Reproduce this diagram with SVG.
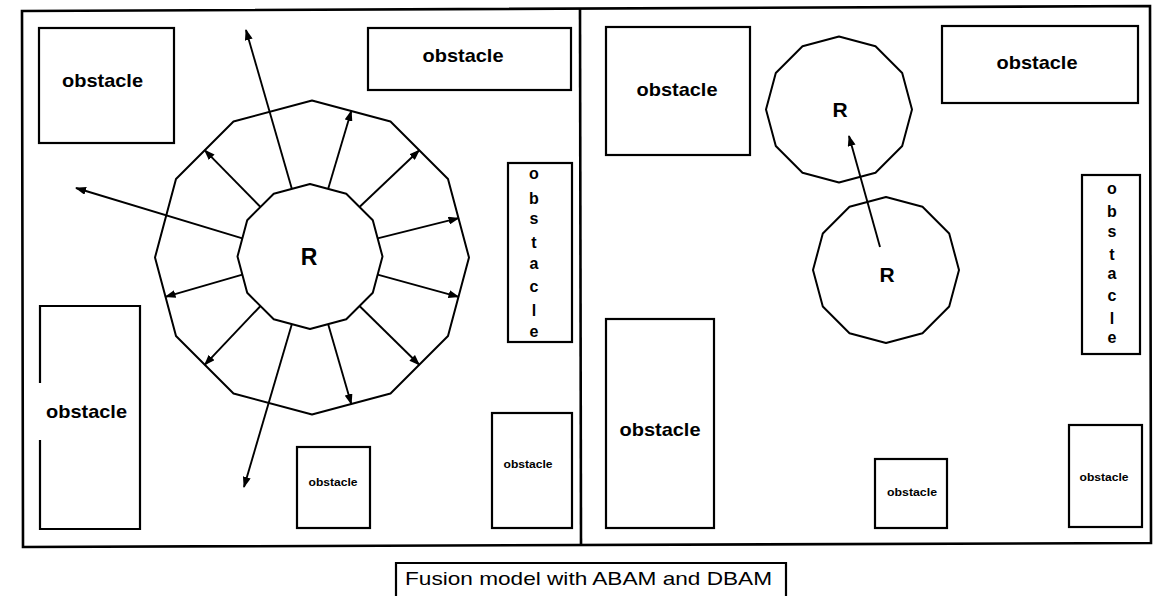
<svg xmlns="http://www.w3.org/2000/svg" width="1154" height="596" viewBox="0 0 1154 596">
<defs>
<style>
.ln{fill:none;stroke:#000;stroke-width:2;stroke-linejoin:round}
.box{fill:none;stroke:#000;stroke-width:2.2}
.fr{fill:none;stroke:#000;stroke-width:2.6}
.ar{fill:none;stroke:#000;stroke-width:1.9}
.lb{font-family:"Liberation Sans",Arial,sans-serif;font-weight:bold;font-size:19px;text-anchor:middle;fill:#000}
.sm{font-family:"Liberation Sans",Arial,sans-serif;font-weight:bold;font-size:11px;text-anchor:middle;fill:#000}
.vl{font-family:"Liberation Sans",Arial,sans-serif;font-weight:bold;font-size:16px;text-anchor:middle;fill:#000}
.r{font-family:"Liberation Sans",Arial,sans-serif;font-weight:bold;text-anchor:middle;fill:#000}
.cap{font-family:"Liberation Sans",Arial,sans-serif;font-size:19px;text-anchor:middle;fill:#000}
</style>
<marker id="ah" markerUnits="userSpaceOnUse" markerWidth="11" markerHeight="8" refX="10" refY="4" orient="auto">
<path d="M0,0 L11,4 L0,8 z" fill="#000"/>
</marker>
</defs>
<rect width="1154" height="596" fill="#fff"/>

<g id="frame">
<polygon class="fr" points="22,11 1150,6 1151,543 23,547"/>
<line class="fr" x1="580" y1="9" x2="581" y2="545"/>
</g>

<!-- Left panel obstacles -->
<g id="L-obstacle-topleft">
<rect class="box" x="39" y="28" width="135" height="115"/>
<text class="lb" x="102.5" y="87" textLength="81" lengthAdjust="spacingAndGlyphs">obstacle</text>
</g>
<g id="L-obstacle-topright">
<rect class="box" x="368" y="28" width="203" height="62"/>
<text class="lb" x="463" y="62" textLength="81" lengthAdjust="spacingAndGlyphs">obstacle</text>
</g>
<g id="L-obstacle-vertical">
<rect class="box" x="508" y="163" width="64" height="179"/>
<text class="vl" x="534" y="179">o</text>
<text class="vl" x="534" y="203.5">b</text>
<text class="vl" x="534" y="224">s</text>
<text class="vl" x="534" y="248">t</text>
<text class="vl" x="534" y="269">a</text>
<text class="vl" x="534" y="291.5">c</text>
<text class="vl" x="534" y="316">l</text>
<text class="vl" x="534" y="336.5">e</text>
</g>
<g id="L-obstacle-tall">
<path class="box" d="M40,383 L40,306 L140,306 L140,529 L40,529 L40,440"/>
<text class="lb" x="86.5" y="418" textLength="81" lengthAdjust="spacingAndGlyphs">obstacle</text>
</g>
<g id="L-obstacle-small">
<rect class="box" x="297" y="447" width="73" height="81"/>
<text class="sm" x="333" y="486" textLength="49" lengthAdjust="spacingAndGlyphs">obstacle</text>
</g>
<g id="L-obstacle-bottomright">
<rect class="box" x="492" y="413" width="80" height="115"/>
<text class="sm" x="528" y="468" textLength="49" lengthAdjust="spacingAndGlyphs">obstacle</text>
</g>

<!-- Left robot with ABAM ring -->
<g id="L-robot">
<polygon class="ln" points="312,100.5 390.5,121.5 448,179 469,257.5 448,336 390.5,393.5 312,414.5 233.5,393.5 176,336 155,257.5 176,179 233.5,121.5"/>
<polygon class="ln" points="310,184 346.25,193.7 372.8,220.25 382.5,256.5 372.8,292.75 346.25,319.3 310,329 273.75,319.3 247.2,292.75 237.5,256.5 247.2,220.25 273.75,193.7"/>
<text class="r" x="309" y="265" font-size="23">R</text>
</g>

<!-- Right panel obstacles -->
<g id="R-obstacle-topleft">
<rect class="box" x="606" y="27" width="144" height="128"/>
<text class="lb" x="677" y="96" textLength="81" lengthAdjust="spacingAndGlyphs">obstacle</text>
</g>
<g id="R-obstacle-topright">
<rect class="box" x="942" y="26" width="196" height="77"/>
<text class="lb" x="1037" y="69" textLength="81" lengthAdjust="spacingAndGlyphs">obstacle</text>
</g>
<g id="R-obstacle-vertical">
<rect class="box" x="1082" y="175" width="58" height="179"/>
<text class="vl" x="1112" y="194">o</text>
<text class="vl" x="1112" y="217">b</text>
<text class="vl" x="1112" y="237">s</text>
<text class="vl" x="1112" y="260">t</text>
<text class="vl" x="1112" y="279">a</text>
<text class="vl" x="1112" y="301">c</text>
<text class="vl" x="1112" y="324">l</text>
<text class="vl" x="1112" y="343">e</text>
</g>
<g id="R-obstacle-tall">
<rect class="box" x="606" y="319" width="108" height="209"/>
<text class="lb" x="660" y="436" textLength="81" lengthAdjust="spacingAndGlyphs">obstacle</text>
</g>
<g id="R-obstacle-small">
<rect class="box" x="875" y="459" width="72" height="69"/>
<text class="sm" x="912" y="496" textLength="50" lengthAdjust="spacingAndGlyphs">obstacle</text>
</g>
<g id="R-obstacle-bottomright">
<rect class="box" x="1069" y="425" width="73" height="102"/>
<text class="sm" x="1104" y="481" textLength="49" lengthAdjust="spacingAndGlyphs">obstacle</text>
</g>

<!-- Right panel robots -->
<g id="R-robot-target">
<polygon class="ln" points="839,36.5 875.5,46.3 902.2,73 912,109.5 902.2,146 875.5,172.7 839,182.5 802.5,172.7 775.8,146 766,109.5 775.8,73 802.5,46.3"/>
<text class="r" x="840" y="117" font-size="21">R</text>
</g>
<g id="R-robot-current">
<polygon class="ln" points="886,197 922.5,206.8 949.2,233.5 959,270 949.2,306.5 922.5,333.2 886,343 849.5,333.2 822.8,306.5 813,270 822.8,233.5 849.5,206.8"/>
<text class="r" x="887" y="282" font-size="21">R</text>
</g>

<!-- Connectors -->
<g id="connectors" class="ar" marker-end="url(#ah)">
<line x1="328.1" y1="188.9" x2="351.3" y2="111"/>
<line x1="359.5" y1="207" x2="419.3" y2="150.2"/>
<line x1="377.6" y1="238.4" x2="458.5" y2="218.2"/>
<line x1="377.6" y1="274.6" x2="458.5" y2="296.8"/>
<line x1="359.5" y1="306" x2="419.3" y2="364.8"/>
<line x1="328.1" y1="324.1" x2="351.3" y2="404"/>
<line x1="260.5" y1="306" x2="204.7" y2="364.8"/>
<line x1="242.4" y1="274.6" x2="165.5" y2="296.8"/>
<line x1="260.5" y1="207" x2="204.7" y2="150.2"/>
<line x1="291.9" y1="188.9" x2="246" y2="30"/>
<line x1="242.4" y1="238.4" x2="76" y2="188"/>
<line x1="291.9" y1="324.1" x2="244" y2="487"/>
<line x1="880" y1="247" x2="849" y2="136"/>
</g>

<g id="caption">
<path class="box" d="M396,600 L396,563 L786,563 L786,600"/>
<text class="cap" x="588.5" y="585" textLength="367" lengthAdjust="spacingAndGlyphs">Fusion model with ABAM and DBAM</text>
</g>
</svg>
